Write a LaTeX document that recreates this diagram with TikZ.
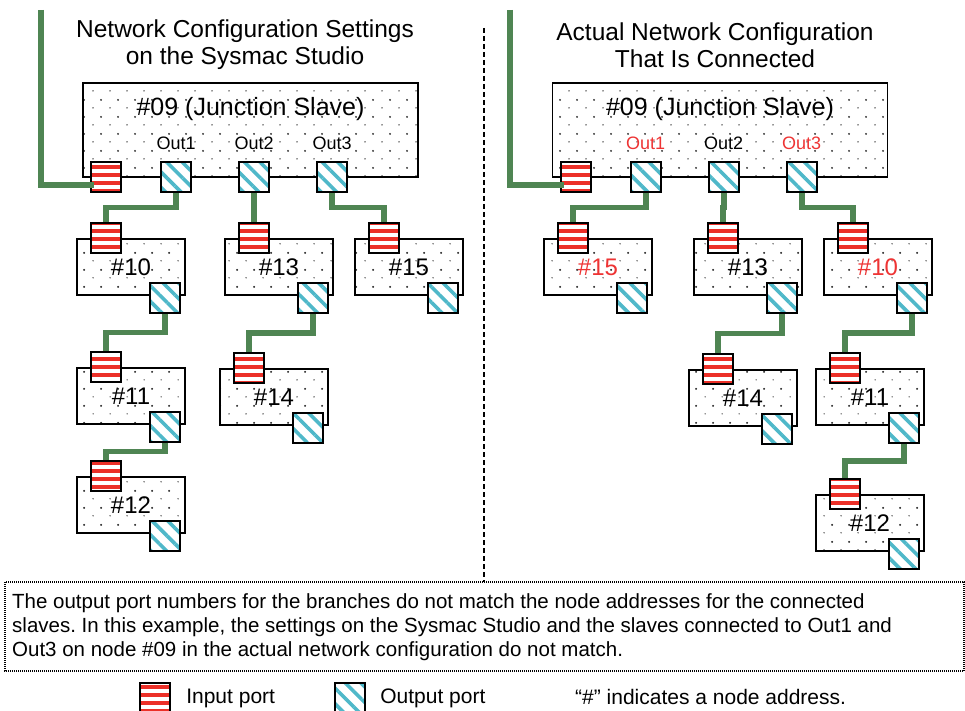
\documentclass[tikz,border=0pt]{standalone}
\usepackage{fontspec}
\setmainfont{Liberation Sans}
\usetikzlibrary{positioning, calc, patterns.meta}
\definecolor{NetGreen}{HTML}{4F8553}
\definecolor{PortRed}{HTML}{EC3028}
\definecolor{PortCyan}{HTML}{4FB8C9}
\definecolor{AddrRed}{HTML}{EE3434}
\definecolor{DotGray}{HTML}{2A2A2A}
\frenchspacing

\tikzset{
  dotbox/.style={draw=black, line width=1.8pt,
    preaction={fill=white},
    preaction={pattern={Dots[distance=17pt, radius=1.1pt]}, pattern color=DotGray},
    preaction={pattern={Dots[distance=17pt, radius=0.75pt, xshift=8.5pt, yshift=8.5pt]}, pattern color=DotGray}},
  slave/.style={dotbox, minimum width=108pt, minimum height=56pt, inner sep=0pt,
    font=\fontsize{24}{28}\selectfont},
  junction/.style={dotbox, minimum width=335pt, minimum height=94pt, inner sep=0pt},
  inport/.style={draw=black, line width=2.2pt, minimum size=30pt, inner sep=0pt,
    preaction={fill=white},
    preaction={pattern={Lines[angle=0, distance=8pt, line width=3.6pt]}, pattern color=PortRed}},
  outport/.style={draw=black, line width=2.2pt, minimum size=30pt, inner sep=0pt,
    preaction={fill=white},
    preaction={pattern={Lines[angle=-45, distance=11pt, line width=3.6pt]}, pattern color=PortCyan}},
  link/.style={draw=NetGreen, line width=5.8pt, line join=miter},
  title/.style={align=center, font=\fontsize{24.5}{27}\selectfont},
  portlbl/.style={font=\fontsize{18}{20}\selectfont, inner sep=0pt},
  legend/.style={font=\fontsize{21}{24}\selectfont, inner sep=0pt}
}

\begin{document}
\begin{tikzpicture}[x=1pt, y=-1pt]
  \useasboundingbox (0,0) rectangle (965,711);

  \node[title] (L-title) at (245,45) {Network Configuration Settings\\on the Sysmac Studio};
  \node[title] (R-title) at (715,45) {Actual Network Configuration\\That Is Connected};
  \draw[line width=1.4pt, dash pattern=on 5pt off 3pt] (484,28) -- (484,582);

  \foreach \side/\cx/\ca/\cb/\cc in {
    L/250.5/black/black/black,
    R/720/AddrRed/black/AddrRed}{
    \node[junction] (\side09) at (\cx,130) {};
    \node[font=\fontsize{25}{28}\selectfont] (\side09-title) at ($(\side09.north)+(0,27)$) {\#09 (Junction Slave)};
    \node[inport] (\side09-in) at ($(\side09.south west)+(24,-1)$) {};
    \foreach \k/\dx/\c in {1/94/\ca, 2/172/\cb, 3/250/\cc}{
      \node[outport] (\side09-o\k) at ($(\side09.south west)+(\dx,-1)$) {};
      \node[portlbl, text=\c] (\side09-lbl\k) at ($(\side09-o\k)+(0,-34)$) {Out\k};
    }
  }

  \foreach \nm/\cx/\cy/\lbl/\col in {
    L10/131/267/10/black, L13/279/267/13/black, L15/409/267/15/black,
    L11/131/396/11/black, L14/274/397/14/black, L12/131/505/12/black,
    R15/598/267/15/AddrRed, R13/748/267/13/black, R10/878/267/10/AddrRed,
    R14/743/398/14/black, R11/870/397/11/black, R12/870/523/12/black}{
    \node[slave, text=\col] (\nm) at (\cx,\cy) {\#\lbl};
    \node[inport] (\nm-in) at ($(\nm.north west)+(30,0)$) {};
    \node[outport] (\nm-out) at ($(\nm.south east)+(-21,2)$) {};
  }

  \foreach \a/\b in {
    L09-o1/L10-in, L09-o2/L13-in, L09-o3/L15-in,
    L10-out/L11-in, L11-out/L12-in, L13-out/L14-in,
    R09-o1/R15-in, R09-o2/R13-in, R09-o3/R10-in,
    R13-out/R14-in, R10-out/R11-in, R11-out/R12-in}{
    \draw[link] (\a.south) |- ($(\a.south)!.5!(\b.north)$) -| (\b.north);
  }

  \coordinate (L-top) at (41,10);
  \coordinate (R-top) at (510,10);
  \draw[link] (L-top) |- ([xshift=4pt, yshift=-8pt]L09-in.west);
  \draw[link] (R-top) |- ([xshift=4pt, yshift=-8pt]R09-in.west);

  \draw[line width=1.5pt, dash pattern=on 1pt off 1pt] (5,582) rectangle (964,671);
  \node[anchor=north west, align=left, inner sep=0pt,
    font=\fontsize{20.5}{24}\selectfont] (note) at (12,593)
    {The output port numbers for the branches do not match the node addresses for the connected\\
     slaves. In this example, the settings on the Sysmac Studio and the slaves connected to Out1 and\\
     Out3 on node \#09 in the actual network configuration do not match.};

  \node[inport] (key-in) at (155,698) {};
  \node[legend, right=15pt of key-in] (key-in-text) {Input port};
  \node[outport] (key-out) at (350,698) {};
  \node[legend, right=14pt of key-out] (key-out-text) {Output port};
  \node[legend, anchor=west] (key-addr) at (575,697) {``\#'' indicates a node address.};
\end{tikzpicture}
\end{document}
